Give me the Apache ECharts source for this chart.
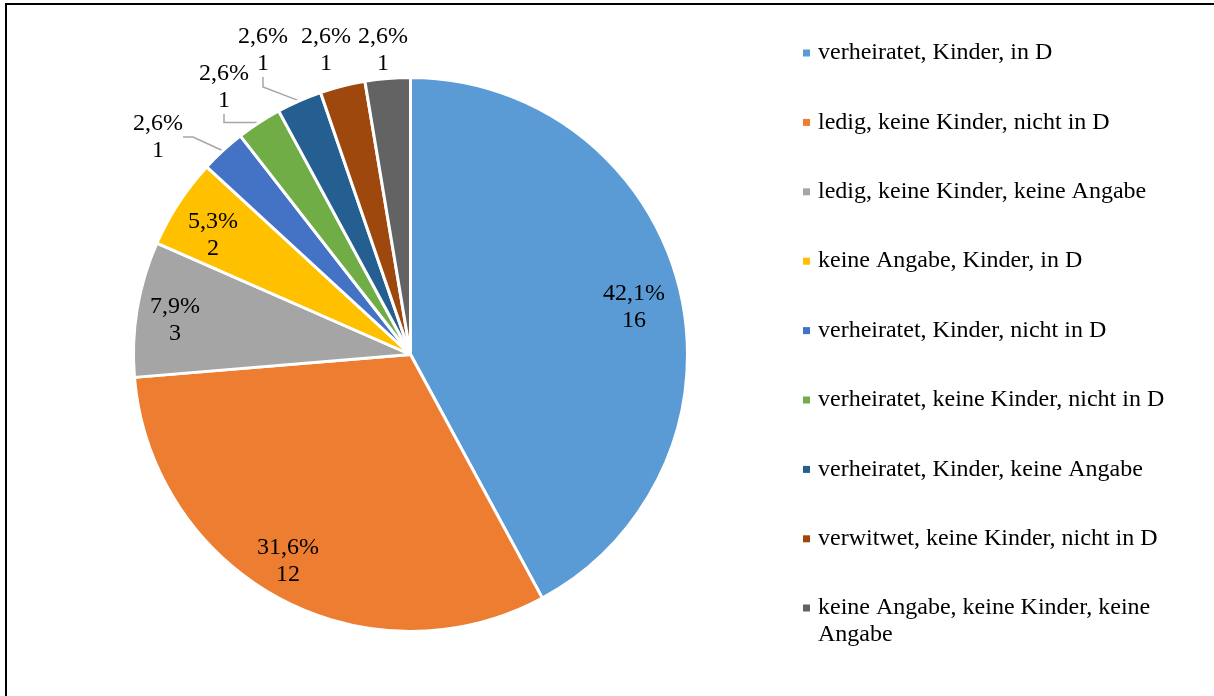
<!DOCTYPE html>
<html>
<head>
<meta charset="utf-8">
<script src="https://cdn.jsdelivr.net/npm/echarts@6/dist/echarts.min.js"></script>
<style>
  html, body { margin: 0; padding: 0; background: #fff; }
  #main { width: 1214px; height: 696px; }
</style>
</head>
<body>
<div id="main"></div>
<script>
// Kategorien und Anzahl
var categories = [
  'verheiratet, Kinder, in D',
  'ledig, keine Kinder, nicht in D',
  'ledig, keine Kinder, keine Angabe',
  'keine Angabe, Kinder, in D',
  'verheiratet, Kinder, nicht in D',
  'verheiratet, keine Kinder, nicht in D',
  'verheiratet, Kinder, keine Angabe',
  'verwitwet, keine Kinder, nicht in D',
  'keine Angabe, keine Kinder, keine Angabe'
]
var counts = [16, 12, 3, 2, 1, 1, 1, 1, 1]
var colors = ['#5B9BD5', '#ED7D31', '#A5A5A5', '#FFC000', '#4472C4', '#70AD47', '#255E91', '#9E480E', '#636363']

// Lage der Beschriftungen (Mittelpunkt), wie im Original
var labelSpots = [
  [634, 307], [288, 561], [175, 320], [213, 235],
  [158, 137], [224, 87], [263, 50], [326, 50], [383, 50]
]
var withLine = [4, 5, 6]

var total = counts.reduce(function (a, b) { return a + b }, 0)
var font = '"Liberation Serif", "Times New Roman", serif'

var pieData = categories.map(function (name, i) {
  return {
    name: name,
    value: counts[i],
    label: { position: i < 4 ? 'inside' : 'outside' },
    labelLine: { show: withLine.indexOf(i) >= 0 }
  }
})

var legendText = {
  fontFamily: font,
  fontSize: 24,
  lineHeight: 27,
  color: '#000',
  padding: [0, 0, 0, 3]
}

var myChart = echarts.init(document.getElementById('main'))
var option = {
  color: colors,
  animation: false,
  graphic: [{
    type: 'rect',
    shape: { x: 6, y: 4, width: 1400, height: 900 },
    style: { fill: 'none', stroke: '#000', lineWidth: 2 },
    silent: true
  }],
  legend: [
    {
      orient: 'vertical',
      left: 803,
      top: 39.5,
      padding: 0,
      icon: 'rect',
      itemWidth: 7,
      itemHeight: 7,
      itemGap: 42.4,
      selectedMode: false,
      itemStyle: { borderWidth: 0 },
      data: categories.slice(0, 8),
      textStyle: legendText
    },
    {
      // letzter Eintrag bricht um, Marker an der ersten Zeile
      orient: 'vertical',
      left: 803,
      top: 594.5,
      padding: 0,
      icon: 'path://M0,0h7v7h-7z M0,34h7',
      itemWidth: 7,
      itemHeight: 34,
      selectedMode: false,
      itemStyle: { borderWidth: 0 },
      data: categories.slice(8),
      formatter: function (name) {
        return name.replace(', keine Angabe', ', keine\nAngabe')
      },
      textStyle: legendText
    }
  ],
  series: [{
    type: 'pie',
    center: [410.5, 354.5],
    radius: 277,
    startAngle: 90,
    clockwise: true,
    avoidLabelOverlap: false,
    itemStyle: { borderColor: '#fff', borderWidth: 3 },
    label: {
      show: true,
      fontFamily: font,
      fontSize: 24,
      lineHeight: 27,
      color: '#000',
      align: 'center',
      formatter: function (p) {
        var pct = (p.value / total * 100).toFixed(1).replace('.', ',')
        return pct + '%\n' + p.value
      }
    },
    labelLine: {
      length: 10,
      length2: 10,
      lineStyle: { color: '#A6A6A6', width: 1.5 }
    },
    labelLayout: function (params) {
      var s = labelSpots[params.dataIndex]
      return { x: s[0], y: s[1], align: 'center', verticalAlign: 'middle' }
    },
    emphasis: { disabled: true },
    data: pieData
  }]
}
myChart.setOption(option)
</script>
</body>
</html>
